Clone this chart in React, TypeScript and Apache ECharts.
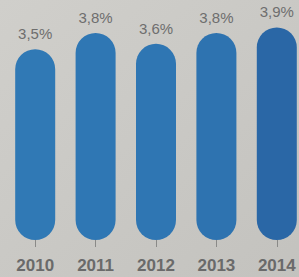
import React, { useEffect, useRef } from "react";
import * as echarts from "echarts";

const categories = ["2010", "2011", "2012", "2013", "2014"];
const values = [3.5, 3.8, 3.6, 3.8, 3.9];
const barColors = ["#3079b5", "#2f77b4", "#2f76b3", "#2e73b0", "#2a67a6"];

export default function App() {
  const ref = useRef<HTMLDivElement>(null);
  useEffect(() => {
    if (!ref.current) return;
    const chart = echarts.init(ref.current, undefined, { renderer: "svg" });
    chart.setOption({
      animation: false,
      backgroundColor: {
        type: "linear",
        x: 0,
        y: 0,
        x2: 1,
        y2: 1,
        colorStops: [
          { offset: 0, color: "#d0cfcb" },
          { offset: 1, color: "#c3c2be" },
        ],
      },
      grid: { left: 5, right: 3, top: 22, bottom: 37, containLabel: false },
      xAxis: {
        type: "category",
        data: categories,
        offset: 5,
        axisLine: { show: false },
        axisTick: {
          show: true,
          alignWithLabel: true,
          length: 7,
          lineStyle: { color: "#8a8a88", width: 1 },
        },
        axisLabel: {
          margin: 12,
          color: "#6a6a6a",
          fontSize: 17,
          fontWeight: "bold",
          fontFamily: "Liberation Sans, Arial, sans-serif",
        },
      },
      yAxis: { type: "value", min: 0, max: 4, show: false },
      series: [
        {
          type: "bar",
          barWidth: 40,
          data: values.map((v, i) => ({
            value: v,
            itemStyle: { color: barColors[i] },
          })),
          itemStyle: { borderRadius: 20 },
          label: {
            show: true,
            position: "top",
            distance: 8,
            color: "#6e6e6e",
            fontSize: 15,
            fontFamily: "Liberation Sans, Arial, sans-serif",
            formatter: (p: any) => p.value.toFixed(1).replace(".", ",") + "%",
          },
        },
      ],
    });
    return () => chart.dispose();
  }, []);
  return (
    <div style={{ position: "fixed", left: 0, top: 0, width: 299, height: 277, overflow: "hidden" }}>
      <div ref={ref} style={{ width: 310, height: 277 }} />
    </div>
  );
}
